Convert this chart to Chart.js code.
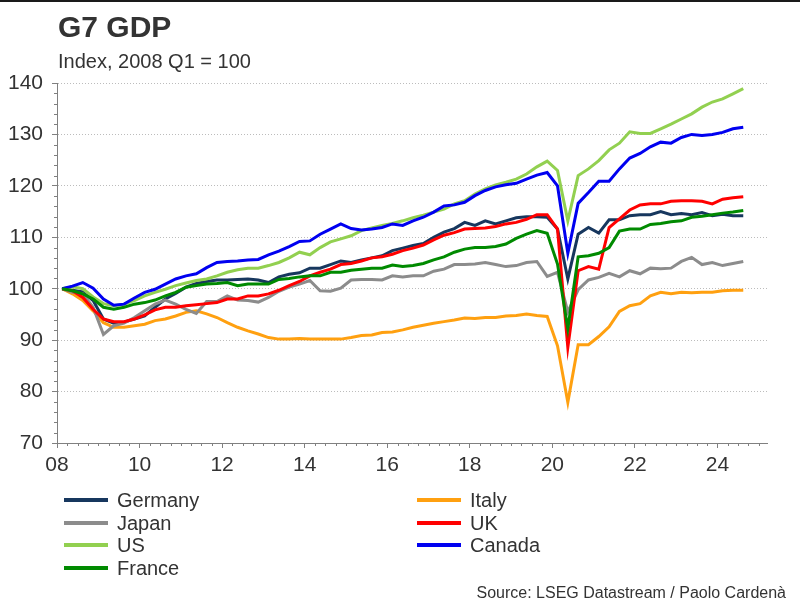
<!DOCTYPE html>
<html>
<head>
<meta charset="utf-8">
<script src="https://cdn.jsdelivr.net/npm/chart.js@4.4.1/dist/chart.umd.min.js"></script>
<style>
  body { margin: 0; background: #fff; }
  #wrap { position: relative; width: 800px; height: 603px; overflow: hidden; font-family: 'Liberation Sans', Arial, sans-serif; color: #333; }
  #topline { position: absolute; left: 0; top: 0; width: 800px; height: 2px; background: #1a1a1a; }
  #title { position: absolute; left: 58px; top: 12px; font-size: 30px; line-height: 30px; font-weight: bold; }
  #subtitle { position: absolute; left: 58px; top: 51px; font-size: 20px; line-height: 20px; }
  #source { position: absolute; right: 14px; top: 585px; font-size: 16px; line-height: 16px; }
  #legend { position: absolute; left: 64px; top: 489px; display: grid; grid-template-columns: 353px auto; grid-template-rows: repeat(4, 22.6px); grid-auto-flow: column; }
  .item { display: flex; align-items: center; font-size: 20px; line-height: 20px; }
  .swatch { width: 44px; height: 4px; margin-right: 9px; }
  canvas { position: absolute; left: 0; top: 0; }
</style>
</head>
<body>
<div id="wrap">
  <div id="topline"></div>
  <canvas id="g7Chart" width="800" height="603"></canvas>
  <div id="title">G7 GDP</div>
  <div id="subtitle">Index, 2008 Q1 = 100</div>
  <div id="legend"></div>
  <div id="source">Source: LSEG Datastream / Paolo Cardenà</div>
</div>
<script>
// quarters 2008 Q1 .. 2024 Q3
var quarters = [];
for (var yr = 2008; yr <= 2024; yr++) {
    for (var q = 1; q <= 4; q++) {
        if (yr === 2024 && q > 3) break;
        quarters.push(yr + " Q" + q);
    }
}

var yearTicks = [2008, 2010, 2012, 2014, 2016, 2018, 2020, 2022, 2024];
var valueTicks = [70, 80, 90, 100, 110, 120, 130, 140];

var germany = [100, 99.7, 99.4, 97.7, 94.1, 93.3, 93.5, 94.1, 94.7, 96.4, 98.0, 99.1, 100.3, 101.0, 101.4, 101.7,
    101.7, 101.8, 101.9, 101.7, 101.2, 102.3, 102.8, 103.1, 104.0, 104.0, 104.7, 105.4, 105.1, 105.6, 106.0, 106.4,
    107.4, 107.9, 108.4, 108.8, 110.0, 111.0, 111.7, 112.9, 112.3, 113.2, 112.6, 113.2, 113.8, 114.0, 114.0, 113.9,
    111.6, 101.9, 110.6, 111.9, 110.8, 113.4, 113.4, 114.2, 114.4, 114.4, 115.0, 114.4, 114.6, 114.4, 114.8, 114.2,
    114.5, 114.2, 114.2];
var japan = [100, 99.3, 99.0, 96.4, 91.1, 92.8, 93.3, 94.4, 95.7, 97.0, 97.8, 97.0, 96.0, 95.2, 97.5, 97.5,
    98.6, 97.8, 97.7, 97.4, 98.3, 99.5, 100.3, 100.9, 101.6, 99.6, 99.5, 100.1, 101.7, 101.8, 101.8, 101.7,
    102.5, 102.3, 102.5, 102.5, 103.4, 103.8, 104.7, 104.7, 104.8, 105.1, 104.7, 104.3, 104.5, 105.1, 105.3, 102.4,
    103.2, 95.5, 99.8, 101.7, 102.2, 103.0, 102.3, 103.5, 102.9, 104.0, 103.9, 104.0, 105.3, 106.1, 104.7, 105.1,
    104.5, 104.9, 105.3];
var us = [100, 100.4, 100.0, 98.4, 97.1, 96.7, 97.0, 97.7, 98.6, 99.3, 99.9, 100.6, 101.1, 101.6, 101.9, 102.5,
    103.2, 103.7, 104.0, 104.0, 104.5, 105.1, 106.0, 107.1, 106.6, 108.0, 109.1, 109.7, 110.3, 111.3, 111.8, 112.3,
    112.7, 113.2, 113.8, 114.3, 114.9, 115.5, 116.5, 117.1, 118.4, 119.4, 120.2, 120.7, 121.3, 122.3, 123.7, 124.8,
    123.0, 113.2, 122.0, 123.3, 124.9, 127.0, 128.3, 130.5, 130.2, 130.2, 131.1, 132.0, 133.0, 134.0, 135.3, 136.3,
    136.9, 137.9, 138.9];
var france = [100, 99.6, 99.0, 98.0, 96.4, 96.0, 96.4, 97.0, 97.3, 97.8, 98.6, 99.3, 100.3, 100.6, 100.9, 101.0,
    101.2, 100.6, 100.9, 100.9, 100.9, 101.8, 102.0, 102.3, 102.5, 102.5, 103.2, 103.2, 103.6, 103.8, 104.0, 104.0,
    104.6, 104.3, 104.5, 104.9, 105.6, 106.2, 107.1, 107.7, 108.0, 108.0, 108.2, 108.7, 109.8, 110.6, 111.3, 110.8,
    104.8, 92.2, 106.2, 106.4, 106.9, 108.0, 111.2, 111.6, 111.6, 112.5, 112.7, 113.0, 113.2, 113.9, 114.1, 114.4,
    114.7, 114.9, 115.2];
var italy = [100, 99.0, 97.7, 95.7, 93.4, 92.5, 92.5, 92.8, 93.1, 93.8, 94.1, 94.7, 95.4, 95.7, 95.1, 94.4,
    93.4, 92.5, 91.8, 91.2, 90.5, 90.2, 90.2, 90.3, 90.2, 90.2, 90.2, 90.2, 90.5, 90.9, 91.0, 91.5,
    91.6, 92.0, 92.5, 92.9, 93.3, 93.6, 93.9, 94.3, 94.2, 94.4, 94.4, 94.7, 94.8, 95.1, 94.8, 94.6,
    88.9, 77.9, 89.1, 89.1, 90.7, 92.6, 95.6, 96.7, 97.1, 98.6, 99.3, 99.0, 99.3, 99.2, 99.3, 99.3,
    99.6, 99.7, 99.7];
var uk = [100, 99.6, 98.3, 96.0, 94.1, 93.6, 93.6, 94.1, 94.9, 95.9, 96.4, 96.4, 96.7, 96.9, 97.1, 97.3,
    98.0, 98.0, 98.6, 98.6, 99.0, 99.7, 100.6, 101.4, 102.5, 103.2, 103.8, 104.7, 104.9, 105.4, 106.0, 106.2,
    106.7, 107.4, 107.9, 108.5, 109.5, 110.4, 110.9, 111.6, 111.7, 111.8, 112.1, 112.6, 112.9, 113.5, 114.4, 114.4,
    111.6, 88.6, 103.5, 104.3, 103.8, 111.9, 113.6, 115.3, 116.3, 116.5, 116.5, 117.0, 117.1, 117.1, 117.0, 116.5,
    117.4, 117.7, 117.9];
var canada = [100, 100.5, 101.2, 100.1, 98.0, 96.8, 97.0, 98.2, 99.3, 99.9, 100.9, 101.9, 102.5, 102.9, 104.1, 105.1,
    105.3, 105.4, 105.6, 105.7, 106.6, 107.3, 108.2, 109.2, 109.3, 110.6, 111.6, 112.6, 111.7, 111.4, 111.6, 111.9,
    112.6, 112.3, 113.2, 113.9, 114.9, 116.1, 116.3, 116.8, 118.1, 119.1, 119.8, 120.2, 120.5, 121.3, 122.1, 122.6,
    120.0, 106.9, 116.6, 118.7, 120.9, 120.9, 123.3, 125.4, 126.3, 127.6, 128.5, 128.3, 129.4, 130.0, 129.8, 130.0,
    130.4, 131.1, 131.4];

var names = ["Germany", "Japan", "US", "France", "Italy", "UK", "Canada"];
var series = [germany, japan, us, france, italy, uk, canada];
var colors = ["#17375E", "#8C8C8C", "#92D050", "#008A00", "#FFA010", "#FF0000", "#0000F0"];
// bottom -> top drawing
var drawOrder = ["Germany", "Italy", "Japan", "UK", "US", "Canada", "France"];

var fontFamily = "'Liberation Sans', Arial, sans-serif";

// mid-quarter position on a year axis
function quarterPos(lbl) {
    var p = lbl.split(" Q");
    return Number(p[0]) + (Number(p[1]) - 1) / 4 + 0.125;
}

var datasets = names.map(function (n, i) {
    return {
        label: n,
        data: series[i].map(function (v, k) { return { x: quarterPos(quarters[k]), y: v }; }),
        borderColor: colors[i],
        backgroundColor: colors[i],
        borderWidth: 3,
        pointRadius: 0,
        tension: 0,
        order: drawOrder.length - drawOrder.indexOf(n)
    };
});

// quarterly / minor tick marks
var minorTicks = {
    id: "minorTicks",
    afterDraw: function (chart) {
        var ctx = chart.ctx, x = chart.scales.x, y = chart.scales.y;
        ctx.save();
        ctx.strokeStyle = "#808080";
        ctx.lineWidth = 1;
        ctx.beginPath();
        for (var t = 2008.25; t < x.max; t += 0.25) {
            if (Math.abs(t / 2 - Math.round(t / 2)) < 1e-6) continue;
            var px = Math.round(x.getPixelForValue(t)) + 0.5;
            ctx.moveTo(px, y.bottom);
            ctx.lineTo(px, y.bottom + 3);
        }
        for (var v = 72; v < 140; v += 2) {
            if (v % 10 === 0) continue;
            var py = Math.round(y.getPixelForValue(v)) + 0.5;
            ctx.moveTo(x.left - 3, py);
            ctx.lineTo(x.left, py);
        }
        ctx.stroke();
        ctx.restore();
    }
};

new Chart("g7Chart", {
    type: "line",
    data: { datasets: datasets },
    options: {
        responsive: false,
        animation: false,
        devicePixelRatio: 1,
        layout: { padding: { left: 0, right: 33, top: 83, bottom: 120 } },
        plugins: {
            legend: { display: false },
            tooltip: { enabled: false }
        },
        scales: {
            x: {
                type: "linear",
                min: 2008,
                max: 2025.2,
                afterBuildTicks: function (axis) {
                    axis.ticks = yearTicks.map(function (v) { return { value: v }; });
                },
                afterFit: function (axis) { axis.height = 40; },
                border: { color: "#808080", width: 1 },
                grid: { drawOnChartArea: false, drawTicks: true, tickLength: 5, tickColor: "#808080" },
                ticks: {
                    autoSkip: false,
                    maxRotation: 0,
                    padding: 5,
                    color: "#333",
                    font: { family: fontFamily, size: 21 },
                    callback: function (v) { return String(v).slice(2); }
                }
            },
            y: {
                min: 70,
                max: 140,
                afterBuildTicks: function (axis) {
                    axis.ticks = valueTicks.map(function (v) { return { value: v }; });
                },
                afterFit: function (axis) { axis.width = 57; },
                border: { color: "#808080", width: 1, dash: [1, 2] },
                grid: {
                    color: function (c) { return c.tick && c.tick.value === 70 ? "rgba(0,0,0,0)" : "#bcbcbc"; },
                    tickLength: 5,
                    tickColor: "#808080",
                    tickBorderDash: []
                },
                ticks: {
                    padding: 9,
                    color: "#333",
                    font: { family: fontFamily, size: 21 }
                }
            }
        }
    },
    plugins: [minorTicks]
});

// legend, column-major like the reference
var legend = document.getElementById("legend");
names.forEach(function (n, i) {
    var item = document.createElement("div");
    item.className = "item";
    var sw = document.createElement("span");
    sw.className = "swatch";
    sw.style.background = colors[i];
    item.appendChild(sw);
    item.appendChild(document.createTextNode(n));
    legend.appendChild(item);
});
</script>
</body>
</html>
